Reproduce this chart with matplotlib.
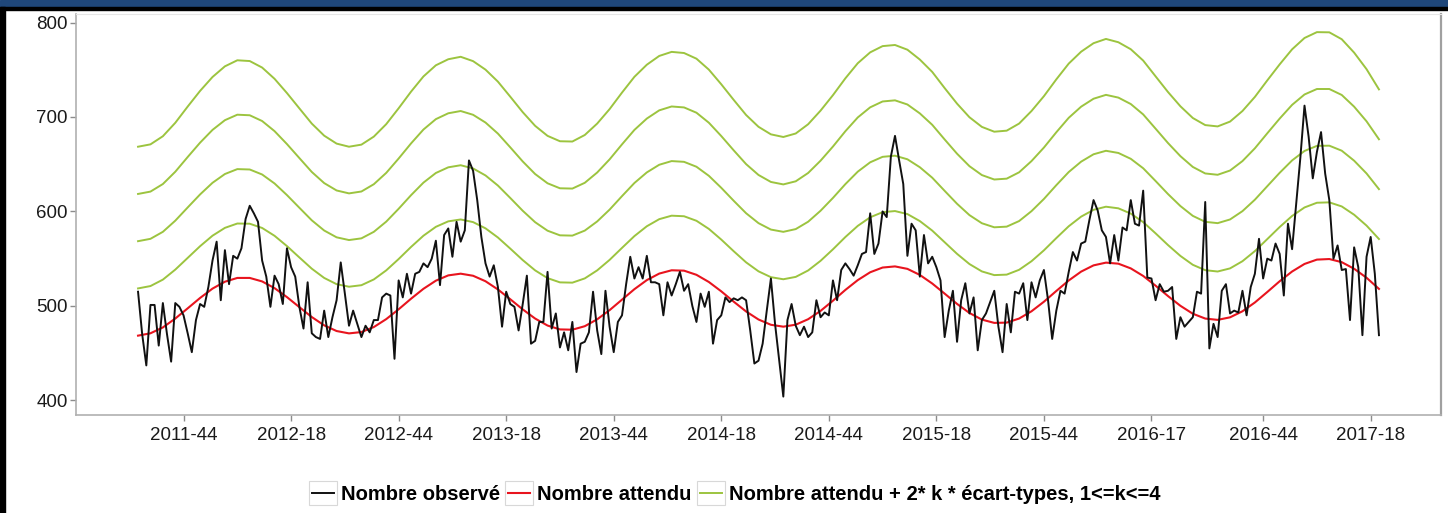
import numpy as np
import pandas as pd
import matplotlib
matplotlib.use("Agg")
import matplotlib.pyplot as plt
from matplotlib.legend_handler import HandlerLine2D
from matplotlib.lines import Line2D
from matplotlib.patches import Rectangle

# semaine de depart (lundi de la semaine ISO 2011-33), une valeur par semaine
debut = "2011-08-15"

observe = [
    515, 470, 437, 501, 501, 458, 503, 470, 441, 503, 499, 490, 471, 451, 485, 502, 499, 520, 548, 568,
    506, 559, 523, 553, 550, 561, 592, 606, 598, 589, 548, 531, 499, 532, 523, 502, 561, 541, 531, 499,
    476, 525, 471, 467, 465, 495, 467, 488, 506, 546, 513, 479, 495, 481, 467, 479, 472, 485, 485,
    509, 513, 511, 444, 527, 509, 534, 513, 534, 536, 545, 541, 550, 569, 522, 575, 582, 552, 589, 568,
    580, 654, 643, 612, 573, 545, 531, 543, 520, 478, 515, 502, 499, 474, 502, 532, 460, 463, 483, 483,
    536, 476, 492, 456, 472, 453, 483, 430, 460, 462, 472, 515, 474, 449, 516, 478, 451, 483, 490, 523, 552,
    529, 541, 529, 553, 525, 525, 523, 490, 525, 511, 523, 536, 516, 523, 500, 483, 513, 499, 515, 460,
    485, 490, 509, 504, 508, 506, 509, 506, 474, 439, 442, 460, 495, 529, 481, 442, 404, 485, 502, 479,
    469, 478, 467, 472, 506, 488, 493, 490, 527, 506, 538, 545, 539, 532, 543, 555, 557, 598, 555, 566,
    600, 594, 658, 680, 654, 629, 553, 587, 580, 531, 575, 545, 552, 541, 527, 467, 495, 516, 462, 506,
    524, 492, 509, 453, 485, 492, 504, 516, 478, 451, 502, 472, 515, 513, 524, 485, 525, 509, 527, 538,
    506, 465, 495, 516, 513, 536, 557, 548, 566, 568, 591, 612, 601, 580, 573, 545, 575, 548, 583, 580, 612,
    587, 585, 622, 530, 529, 506, 523, 515, 516, 520, 465, 488, 478, 483, 488, 515, 513, 610, 455, 481,
    467, 516, 523, 492, 495, 493, 516, 490, 520, 534, 571, 529, 550, 548, 566, 555, 511, 587, 560, 608,
    657, 712, 679, 635, 663, 684, 640, 612, 550, 564, 538, 539, 485, 562, 541, 469, 552, 573, 534, 469,
]

# modele lu toutes les 3 semaines
pas_modele = 3
attendu = [
    468.5, 471.0, 477.2, 486.6, 497.4, 508.4, 518.3, 525.6, 529.6, 529.6,
    525.9, 518.8, 509.3, 498.7, 488.2, 479.4, 473.4, 470.9, 472.3, 477.6,
    486.0, 496.4, 507.6, 518.1, 526.7, 532.3, 534.1, 531.9, 526.1, 517.4,
    507.0, 496.3, 486.6, 479.2, 475.1, 474.8, 478.5, 485.8, 495.5, 506.6,
    517.7, 527.3, 534.2, 537.7, 537.3, 532.9, 525.3, 515.4, 504.5, 494.1,
    485.6, 480.0, 478.0, 480.1, 485.9, 494.7, 505.5, 516.9, 527.3, 535.6,
    540.6, 541.8, 539.2, 532.8, 523.7, 513.0, 502.1, 492.5, 485.5, 482.0,
    482.3, 486.6, 494.3, 504.4, 515.8, 526.9, 536.3, 542.9, 545.8, 544.7,
    539.7, 531.7, 521.4, 510.4, 500.1, 491.7, 486.6, 485.2, 487.9, 494.3,
    503.6, 514.7, 526.1, 536.4, 544.4, 549.0, 549.6, 546.3, 539.3, 529.8,
    518.0,
]
ecart_type = [
    25.0, 25.0, 25.3, 25.9, 26.7, 27.4, 28.0, 28.5, 28.8, 28.7,
    28.3, 27.7, 27.0, 26.3, 25.6, 25.1, 24.8, 24.7, 24.8, 25.2,
    25.8, 26.6, 27.4, 28.1, 28.5, 28.6, 28.7, 28.4, 28.0, 27.5,
    26.8, 26.1, 25.5, 25.1, 24.9, 24.9, 25.3, 25.9, 26.6, 27.4,
    28.1, 28.5, 28.8, 28.9, 28.8, 28.6, 28.1, 27.4, 26.7, 26.0,
    25.5, 25.2, 25.1, 25.3, 25.8, 26.5, 27.2, 28.0, 28.7, 29.1,
    29.3, 29.3, 29.0, 28.5, 28.0, 27.2, 26.5, 25.9, 25.5, 25.3,
    25.4, 25.8, 26.5, 27.2, 28.0, 28.7, 29.1, 29.4, 29.6, 29.3,
    29.0, 28.5, 27.7, 27.0, 26.4, 25.9, 25.6, 25.6, 25.9, 26.5,
    27.2, 28.0, 28.7, 29.4, 29.9, 30.1, 30.0, 29.5, 28.6, 27.6,
    26.4,
]

etiquettes_x = ["2011-44", "2012-18", "2012-44", "2013-18", "2013-44", "2014-18",
                "2014-44", "2015-18", "2015-44", "2016-17", "2016-44", "2017-18"]
ticks_y = [400, 500, 600, 700, 800]

noir = "#111111"
rouge = "#e8141e"
vert = "#9cc43f"

semaines = pd.date_range(debut, periods=len(observe), freq="7D")
semaines_modele = semaines[::pas_modele]
codes = list(semaines.strftime("%G-%V"))
pos_x = [semaines[codes.index(e)] for e in etiquettes_x]

attendu = np.array(attendu)
ecart_type = np.array(ecart_type)

plt.rcParams["font.family"] = ["Liberation Sans", "DejaVu Sans"]

W, H = 1448, 513
fig = plt.figure(figsize=(W / 100, H / 100), dpi=100)
ax = fig.add_axes([76 / W, 1 - 415 / H, (1441 - 76) / W, (415 - 14) / H])

for k in range(1, 5):
    ax.plot(semaines_modele, attendu + 2 * k * ecart_type, color=vert, lw=1.4)
ax.plot(semaines_modele, attendu, color=rouge, lw=1.5)
ax.plot(semaines, observe, color=noir, lw=1.4)

ax.set_xlim(semaines[0] - pd.Timedelta(weeks=15), semaines[-1] + pd.Timedelta(weeks=15))
ax.set_ylim(384.5, 809)
ax.set_xticks(pos_x)
ax.set_xticklabels(etiquettes_x)
ax.set_yticks(ticks_y)
ax.tick_params(axis="both", length=4, width=1, color="#8c8c8c", labelsize=13.5,
               labelcolor="#1a1a1a")
ax.tick_params(axis="y", pad=2)
ax.tick_params(axis="x", pad=5)

for cote in ["left", "bottom"]:
    ax.spines[cote].set_color("#b0b0b0")
    ax.spines[cote].set_linewidth(1.2)
ax.spines["top"].set_color("#e6e6e6")
ax.spines["right"].set_color("#a0a0a0")
ax.spines["right"].set_linewidth(1.6)


class CleBoite(HandlerLine2D):
    def create_artists(self, legend, orig_handle, xdescent, ydescent, width, height, fontsize, trans):
        arts = super().create_artists(legend, orig_handle, xdescent, ydescent, width, height,
                                      fontsize, trans)
        boite = Rectangle((-xdescent - 2, -ydescent - 0.35 * height), width + 4, 1.7 * height,
                          facecolor="none", edgecolor="#d8d8d8", lw=0.8, transform=trans)
        return [boite] + arts


poignees = [Line2D([], [], color=noir, lw=1.4),
            Line2D([], [], color=rouge, lw=1.5),
            Line2D([], [], color=vert, lw=1.4)]
libelles = ["Nombre observé", "Nombre attendu",
            "Nombre attendu + 2* k * écart-types, 1<=k<=4"]
fig.legend(poignees, libelles, loc="center", bbox_to_anchor=(736 / W, 1 - 495 / H), ncol=3,
           frameon=False, prop={"weight": "bold", "size": 14.5}, handlelength=1.1,
           handletextpad=0.35, columnspacing=0.4,
           handler_map={Line2D: CleBoite()})

# cadre de la page
fig.patches.append(Rectangle((0, 1 - 7 / H), 1, 7 / H, transform=fig.transFigure,
                             color="#1f477a", zorder=5))
fig.patches.append(Rectangle((0, 1 - 9.5 / H), 1, 2.5 / H, transform=fig.transFigure,
                             color="black", zorder=5))
fig.patches.append(Rectangle((0, 0), 5 / W, 1 - 7 / H, transform=fig.transFigure,
                             color="black", zorder=5))

fig.savefig("out.png", dpi=100)
